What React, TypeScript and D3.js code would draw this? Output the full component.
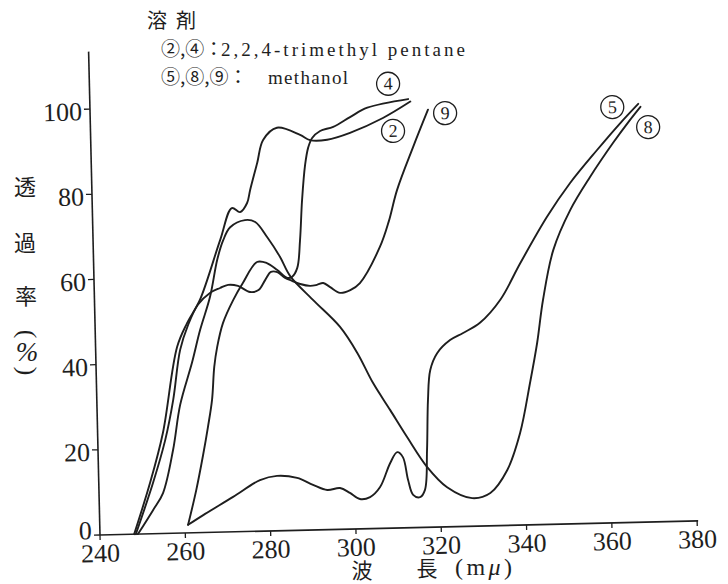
import React from 'react';
import * as d3 from 'd3';

type Pt = [number, number];

const xTicks = [240, 260, 280, 300, 320, 340, 360, 380];
const yTicks = [0, 20, 40, 60, 80, 100];

// solvent 2,2,4-trimethyl pentane
const curve2: Pt[] = [
  [248.0, 0], [252.0, 11.9], [255.3, 23.6], [259.1, 43.7], [261.6, 49.3], [264.7, 54.6],
  [269.8, 68.6], [272.7, 76.0], [274.6, 75.0], [276.3, 77.1], [277.1, 80.2], [278.9, 86.5],
  [280.4, 91.8], [283.7, 94.6], [289.1, 92.8], [291.4, 91.5], [295.4, 91.5], [300.8, 93.0],
  [308.6, 96.3], [315.1, 100.0],
];
const curve4: Pt[] = [
  [260.7, 1.9], [262.8, 10.0], [264.6, 18.2], [265.9, 24.8], [267.0, 31.1], [267.7, 38.8],
  [268.5, 43.5], [270.0, 49.1], [272.5, 54.4], [274.9, 58.4], [278.3, 63.2], [280.6, 62.9],
  [283.0, 61.2], [285.3, 59.3], [286.4, 59.5], [287.7, 61.6], [288.5, 68.1], [289.2, 77.5],
  [290.1, 85.7], [290.9, 89.7], [291.9, 92.0], [293.8, 93.6], [296.9, 94.5], [300.9, 96.7],
  [305.0, 98.8], [314.6, 100.6],
];

// solvent methanol
const curve5: Pt[] = [
  [260.7, 1.9], [264.3, 4.1], [271.4, 8.2], [277.8, 12.0], [281.8, 12.9], [286.5, 12.3],
  [290.2, 10.6], [293.5, 9.3], [296.5, 9.7], [298.8, 8.5], [301.1, 7.0], [303.5, 7.4],
  [305.9, 9.7], [308.4, 15.3], [310.1, 17.8], [311.4, 16.6], [312.5, 11.2], [313.6, 7.7],
  [315.2, 7.1], [316.4, 8.8], [317.1, 18.1], [317.6, 29.9], [318.3, 36.9], [320.0, 40.8],
  [323.1, 43.8], [326.2, 45.4], [330.2, 47.7], [335.1, 53.0], [340.0, 61.5], [346.5, 72.2],
  [352.1, 80.0], [358.6, 87.6], [364.2, 93.8], [368.5, 98.2],
];
const curve8: Pt[] = [
  [248.9, 0], [252.6, 5.6], [255.0, 9.5], [257.6, 19.6], [259.5, 30.1], [262.5, 39.9],
  [264.6, 47.6], [267.1, 55.3], [269.0, 64.0], [270.5, 68.5], [272.2, 71.5], [275.7, 73.1],
  [278.1, 72.6], [280.8, 69.0], [283.7, 64.3], [286.0, 59.7], [291.2, 54.0], [297.4, 47.5],
  [301.3, 41.3], [304.8, 34.2], [308.7, 27.7], [312.5, 21.3], [317.0, 14.2], [321.6, 9.3],
  [327.4, 6.6], [331.7, 7.7], [335.8, 13.0], [339.0, 21.6], [341.6, 33.3], [343.5, 42.7],
  [345.1, 52.7], [347.8, 64.4], [352.0, 73.7], [356.8, 81.3], [362.4, 89.2], [366.5, 94.5],
  [369.0, 97.5],
];
const curve9: Pt[] = [
  [248.4, 0], [252.7, 11.9], [255.8, 21.9], [257.9, 31.3], [259.8, 43.0], [261.8, 48.8],
  [264.2, 53.5], [267.1, 56.2], [269.5, 57.3], [271.4, 58.0], [273.7, 57.7], [276.5, 56.2],
  [278.5, 56.6], [280.1, 58.9], [281.5, 60.8], [283.0, 60.7], [284.8, 59.3], [286.4, 58.6],
  [288.3, 57.8], [290.6, 57.3], [292.2, 57.5], [293.7, 57.9], [295.3, 56.9], [297.6, 55.5],
  [300.0, 56.1], [302.3, 57.7], [307.2, 66.1], [309.4, 72.0], [311.5, 79.3], [315.5, 89.3],
  [319.2, 98.0],
];

const curves = [curve2, curve4, curve5, curve8, curve9];

// circled curve numbers, placed in data units
const curveTags: { num: string; at: Pt }[] = [
  { num: '4', at: [310.0, 104.3] },
  { num: '2', at: [310.9, 93.2] },
  { num: '9', at: [323.2, 97.1] },
  { num: '5', at: [362.4, 97.6] },
  { num: '8', at: [370.7, 92.7] },
];

const serif = '"Liberation Serif", "Times New Roman", serif';
const cjk = '"Noto Sans CJK JP", "Noto Sans CJK SC", sans-serif';
const ink = '#1e1e1e';

export default function App() {
  const x = d3.scaleLinear().domain([240, 380]).range([100, 697.3]);
  const y = d3.scaleLinear().domain([0, 100]).range([535, 109]);
  const yTop = 113.5;
  // the scanned figure sits slightly tilted
  const tilt = -1.35;

  const line = d3
    .line<Pt>()
    .x((d) => x(d[0]))
    .y((d) => y(d[1]))
    .curve(d3.curveCatmullRom.alpha(0.5));

  return (
    <svg
      width={728}
      height={584}
      style={{ position: 'absolute', left: 0, top: 0, background: '#fff' }}
    >
      <g transform={`rotate(${tilt}, ${x(240)}, ${y(0)})`}>
        <line x1={x(240)} x2={x(240)} y1={y(0)} y2={y(yTop)} stroke={ink} strokeWidth={1.6} />
        <line x1={x(240)} x2={x(380) + 1} y1={y(0)} y2={y(0)} stroke={ink} strokeWidth={1.6} />

        {yTicks.map((t) => (
          <g key={'y' + t}>
            <line x1={x(240) - 6} x2={x(240)} y1={y(t)} y2={y(t)} stroke={ink} strokeWidth={1.3} />
            <text
              x={x(240) - 8}
              y={y(t) + (t === 0 ? 4 : 11)}
              textAnchor="end"
              fontFamily={serif}
              fontSize={26}
              fill={ink}
            >
              {t}
            </text>
          </g>
        ))}

        {xTicks.map((t) => (
          <g key={'x' + t}>
            <line x1={x(t)} x2={x(t)} y1={y(0)} y2={y(0) + 5} stroke={ink} strokeWidth={1.3} />
            <text
              x={x(t)}
              y={y(0) + 27}
              textAnchor="middle"
              fontFamily={serif}
              fontSize={26}
              fill={ink}
            >
              {t}
            </text>
          </g>
        ))}

        {curves.map((c, i) => (
          <path
            key={i}
            d={line(c) || ''}
            fill="none"
            stroke={ink}
            strokeWidth={1.9}
            strokeLinejoin="round"
            strokeLinecap="round"
          />
        ))}

        {curveTags.map((tg) => (
          <g key={tg.num} transform={`translate(${x(tg.at[0])},${y(tg.at[1])})`}>
            <circle r={11.5} fill="#fff" stroke={ink} strokeWidth={1.3} />
            <text y={6} textAnchor="middle" fontFamily={serif} fontSize={18} fill={ink}>
              {tg.num}
            </text>
          </g>
        ))}
      </g>

      {/* solvent note */}
      <text x={147} y={28} fontFamily={cjk} fontSize={20} letterSpacing={9} fill={ink}>
        溶剤
      </text>
      <text x={161} y={56} fontFamily={cjk} fontSize={19} fill={ink}>
        ②,④：
      </text>
      <text x={221} y={56} fontFamily={serif} fontSize={19} textLength={244} lengthAdjust="spacing" fill={ink}>
        2,2,4-trimethyl pentane
      </text>
      <text x={161} y={84} fontFamily={cjk} fontSize={19} fill={ink}>
        ⑤,⑧,⑨：
      </text>
      <text x={268} y={84} fontFamily={serif} fontSize={19} textLength={80} lengthAdjust="spacing" fill={ink}>
        methanol
      </text>

      {/* y title, set vertically */}
      <g fontFamily={cjk} fontSize={22} fill={ink} textAnchor="middle">
        <text x={25} y={195}>透</text>
        <text x={25} y={251}>過</text>
        <text x={26} y={304}>率</text>
      </g>
      <g transform="translate(27,334)">
        <text
          transform="rotate(90)"
          textAnchor="middle"
          dominantBaseline="central"
          fontFamily={serif}
          fontSize={26}
          fill={ink}
        >
          (
        </text>
      </g>
      <text x={27} y={361} textAnchor="middle" fontFamily={serif} fontStyle="italic" fontSize={27} fill={ink}>
        %
      </text>
      <g transform="translate(27,371)">
        <text
          transform="rotate(90)"
          textAnchor="middle"
          dominantBaseline="central"
          fontFamily={serif}
          fontSize={26}
          fill={ink}
        >
          )
        </text>
      </g>

      {/* x title */}
      <g fontFamily={cjk} fontSize={21} fill={ink} textAnchor="middle">
        <text x={362} y={578}>波</text>
        <text x={427} y={576}>長</text>
      </g>
      <text x={455} y={575} fontFamily={serif} fontSize={24} textLength={57} lengthAdjust="spacing" fill={ink}>
        (m<tspan fontStyle="italic">μ</tspan>)
      </text>
    </svg>
  );
}
